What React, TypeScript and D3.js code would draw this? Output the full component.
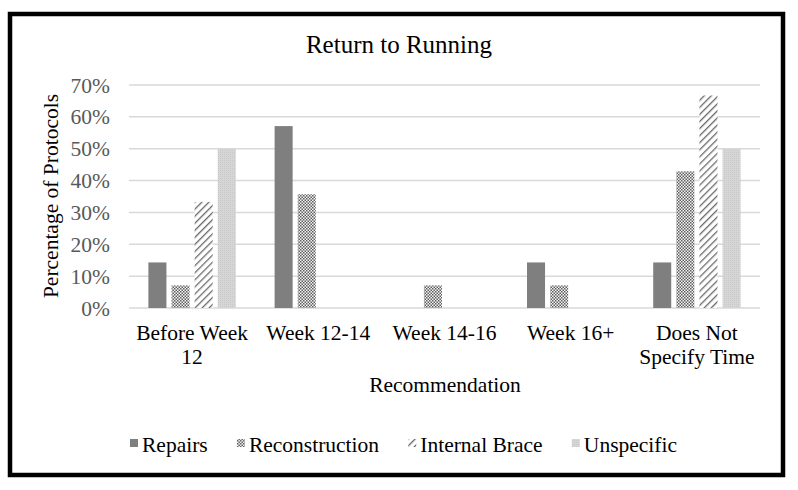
import React, { useEffect, useRef } from "react";
import * as d3 from "d3";

const categories = [["Before Week", "12"], ["Week 12-14"], ["Week 14-16"], ["Week 16+"], ["Does Not", "Specify Time"]];
const categoryKeys = ["Before Week 12", "Week 12-14", "Week 14-16", "Week 16+", "Does Not Specify Time"];
const seriesNames = ["Repairs", "Reconstruction", "Internal Brace", "Unspecific"];
const repairs = [0.143, 0.571, 0, 0.143, 0.143];
const reconstruction = [0.071, 0.357, 0.071, 0.071, 0.429];
const internalBrace = [0.333, 0, 0, 0, 0.667];
const unspecific = [0.5, 0, 0, 0, 0.5];
const yTicks = [0, 0.1, 0.2, 0.3, 0.4, 0.5, 0.6, 0.7];

const seriesValues = [repairs, reconstruction, internalBrace, unspecific];
const fills = ["#7f7f7f", "url(#pRecon)", "url(#pBrace)", "url(#pUnspec)"];
const FONT = "'Liberation Serif', 'Times New Roman', serif";

export default function App() {
  const ref = useRef<SVGSVGElement | null>(null);
  useEffect(() => {
    const svg = d3.select(ref.current);
    svg.selectAll("*").remove();
    const W = 798, H = 490;
    const left = 129, right = 760, top = 85, bottom = 308;

    const defs = svg.append("defs");
    const pr = defs.append("pattern").attr("id", "pRecon").attr("patternUnits", "userSpaceOnUse").attr("width", 3).attr("height", 3);
    pr.append("rect").attr("width", 3).attr("height", 3).attr("fill", "#f4f4f4");
    pr.append("rect").attr("x", 0).attr("y", 0).attr("width", 1.5).attr("height", 1.5).attr("fill", "#5e5e5e");
    pr.append("rect").attr("x", 1.5).attr("y", 1.5).attr("width", 1.5).attr("height", 1.5).attr("fill", "#5e5e5e");

    const pb = defs.append("pattern").attr("id", "pBrace").attr("patternUnits", "userSpaceOnUse").attr("width", 5).attr("height", 5).attr("patternTransform", "rotate(45)");
    pb.append("rect").attr("width", 5).attr("height", 5).attr("fill", "#ffffff");
    pb.append("rect").attr("x", 0).attr("y", 0).attr("width", 1.3).attr("height", 5).attr("fill", "#6a6a6a");

    const pu = defs.append("pattern").attr("id", "pUnspec").attr("patternUnits", "userSpaceOnUse").attr("width", 2).attr("height", 2);
    pu.append("rect").attr("width", 2).attr("height", 2).attr("fill", "#d6d6d6");
    pu.append("rect").attr("width", 1).attr("height", 1).attr("fill", "#c9c9c9");

    svg.append("rect").attr("x", 0).attr("y", 0).attr("width", W).attr("height", H).attr("fill", "#fff");
    svg.append("rect").attr("x", 10).attr("y", 14).attr("width", 773).attr("height", 461)
      .attr("fill", "none").attr("stroke", "#000").attr("stroke-width", 4.5);

    const x = d3.scaleBand<string>().domain(categoryKeys).range([left, right]).padding(0);
    const inner = d3.scaleBand<string>().domain(seriesNames).range([-43.7, 43.7]).paddingInner(0.22).paddingOuter(0);
    const y = d3.scaleLinear().domain([0, 0.7]).range([bottom, top]);

    svg.append("g").selectAll("line").data(yTicks).join("line")
      .attr("x1", left).attr("x2", right).attr("y1", d => y(d)).attr("y2", d => y(d))
      .attr("stroke", "#d9d9d9").attr("stroke-width", 1.5);

    svg.append("g").selectAll("text").data(yTicks).join("text")
      .attr("x", 110).attr("y", d => y(d)).attr("dy", "0.35em").attr("text-anchor", "end")
      .attr("font-family", FONT).attr("font-size", 21.5).attr("fill", "#595959")
      .text(d => d3.format(".0%")(d));

    seriesNames.forEach((s, si) => {
      svg.append("g").selectAll("rect").data(seriesValues[si]).join("rect")
        .attr("x", (d, i) => (x(categoryKeys[i]) as number) + x.bandwidth() / 2 + (inner(s) as number))
        .attr("width", inner.bandwidth())
        .attr("y", d => y(d)).attr("height", d => bottom - y(d))
        .attr("fill", fills[si]);
    });

    const cg = svg.append("g");
    categories.forEach((lines, i) => {
      const cx = (x(categoryKeys[i]) as number) + x.bandwidth() / 2;
      lines.forEach((ln, li) => {
        cg.append("text").attr("x", cx).attr("y", 340 + li * 24).attr("text-anchor", "middle")
          .attr("font-family", FONT).attr("font-size", 21.5).attr("fill", "#000").text(ln);
      });
    });

    svg.append("text").attr("x", 399).attr("y", 53).attr("text-anchor", "middle")
      .attr("font-family", FONT).attr("font-size", 25).attr("fill", "#000").text("Return to Running");

    svg.append("text").attr("x", 445).attr("y", 392).attr("text-anchor", "middle")
      .attr("font-family", FONT).attr("font-size", 21.5).attr("fill", "#000").text("Recommendation");

    svg.append("text").attr("transform", "translate(58,196) rotate(-90)").attr("text-anchor", "middle")
      .attr("font-family", FONT).attr("font-size", 21.5).attr("fill", "#000").text("Percentage of Protocols");

    const lg = svg.append("g");
    const items: { g: any; w: number }[] = [];
    seriesNames.forEach((s, si) => {
      const g = lg.append("g");
      g.append("rect").attr("x", 0).attr("y", -13).attr("width", 8).attr("height", 8).attr("fill", fills[si]);
      const t = g.append("text").attr("x", 12).attr("y", 0).attr("font-family", FONT).attr("font-size", 21.5)
        .attr("fill", "#000").text(s);
      const w = 12 + (t.node() as SVGTextElement).getComputedTextLength();
      items.push({ g, w });
    });
    const lx0 = 130, lx1 = 677;
    const gap = (lx1 - lx0 - d3.sum(items, d => d.w)) / (items.length - 1);
    let cx = lx0;
    items.forEach(it => {
      it.g.attr("transform", `translate(${cx},452)`);
      cx += it.w + gap;
    });
  }, []);
  return <svg ref={ref} width={798} height={490} style={{ display: "block", position: "absolute", left: 0, top: 0 }} />;
}
